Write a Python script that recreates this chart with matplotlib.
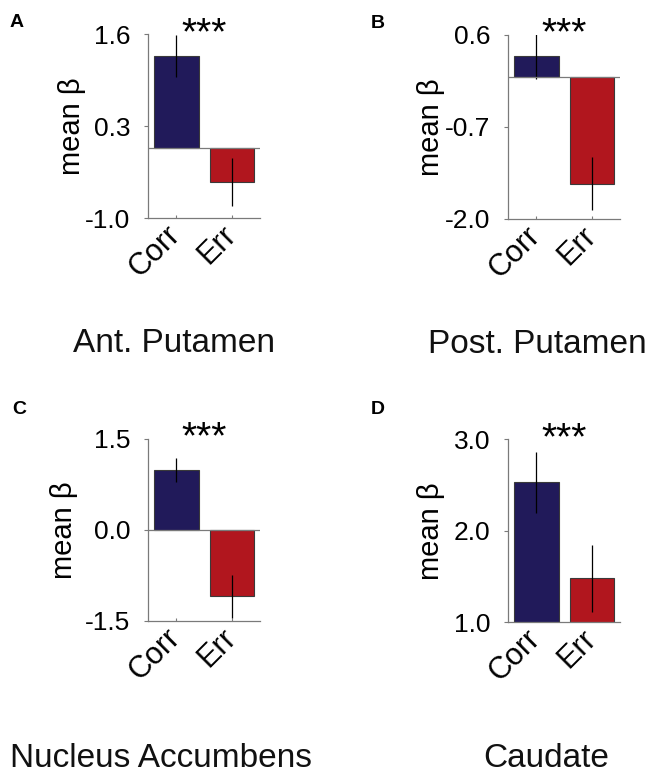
import matplotlib
matplotlib.use("Agg")
import matplotlib.pyplot as plt
import matplotlib.transforms as mtransforms

plt.rcParams["font.family"] = ["Liberation Sans", "DejaVu Sans"]
plt.rcParams["axes.unicode_minus"] = False

# values
regions = ["Ant. Putamen", "Post. Putamen", "Nucleus Accumbens", "Caudate"]
letters = ["A", "B", "C", "D"]
conditions = ["Corr", "Err"]
corr_mean = [1.29, 0.30, 0.99, 2.53]
corr_sem = [0.30, 0.32, 0.20, 0.33]
err_mean = [-0.49, -1.50, -1.10, 1.48]
err_sem = [0.34, 0.37, 0.36, 0.37]
yticks = [[-1.0, 0.3, 1.6], [-2.0, -0.7, 0.6], [-1.5, 0.0, 1.5], [1.0, 2.0, 3.0]]

c_corr = "#211a5a"
c_err = "#b1161e"
grey = "#7a7a7a"

W, H = 648, 774
fig = plt.figure(figsize=(W / 100, H / 100), dpi=100)

# axes boxes in pixels: left, top, right, bottom
boxes = [(148.3, 34.3, 260, 218.3), (508.3, 35, 620, 219),
         (148.3, 439, 260, 620.7), (508.3, 439.3, 620, 622.3)]
label_x = [-0.558, -0.567, -0.632, -0.567]
# title positions in pixels (x, baseline y, ha)
titles = [(174.3, 352, "center"), (428, 353, "left"),
          (10, 767, "left"), (546, 767, "center")]
letter_pos = [(10, 27), (371, 28), (12, 414), (371, 414)]

for i in range(4):
    l, t, r, b = boxes[i]
    ax = fig.add_axes([l / W, 1 - b / H, (r - l) / W, (b - t) / H])
    means = [corr_mean[i], err_mean[i]]
    sems = [corr_sem[i], err_sem[i]]
    ax.bar([0, 1], means, width=0.8, color=[c_corr, c_err],
           edgecolor="#3a3a3a", linewidth=0.8, zorder=2)
    ax.errorbar([0, 1], means, yerr=sems, fmt="none", ecolor="black",
                elinewidth=0.9, capsize=0, zorder=3)
    ax.set_xlim(-0.5, 1.5)
    ax.set_ylim(yticks[i][0], yticks[i][-1])
    if yticks[i][0] < 0:
        ax.axhline(0, color=grey, lw=0.9, zorder=4)
    ax.set_yticks(yticks[i])
    ax.set_yticklabels([f"{v:.1f}" for v in yticks[i]])
    ax.set_xticks([0, 1])
    ax.set_xticklabels(conditions, rotation=45, ha="right", va="center",
                       rotation_mode="anchor", fontsize=22)
    off = mtransforms.ScaledTranslation(5 / 100, 0, fig.dpi_scale_trans)
    for lab in ax.get_xticklabels():
        lab.set_transform(lab.get_transform() + off)
    ax.tick_params(axis="y", direction="out", length=3, width=0.8,
                   color=grey, labelsize=19, pad=10)
    ax.tick_params(axis="x", direction="in", length=2.5, width=0.8,
                   color=grey, pad=9)
    for s in ["top", "right"]:
        ax.spines[s].set_visible(False)
    for s in ["left", "bottom"]:
        ax.spines[s].set_color(grey)
        ax.spines[s].set_linewidth(0.9)
    ax.set_ylabel("mean β", fontsize=21)
    ax.yaxis.set_label_coords(label_x[i], 0.5)
    ax.annotate("***", xy=(0.5, 1.0), xycoords=ax.get_xaxis_transform(),
                xytext=(0, -7), textcoords="offset points",
                ha="center", va="baseline", fontsize=28,
                annotation_clip=False)

    tx, ty, ha = titles[i]
    fig.text(tx / W, 1 - ty / H, regions[i], ha=ha, va="baseline",
             fontsize=24, color="#111111")
    lx, ly = letter_pos[i]
    fig.text(lx / W, 1 - ly / H, letters[i], ha="left", va="baseline",
             fontsize=14, fontweight="bold")

fig.savefig("out.png", dpi=100)
